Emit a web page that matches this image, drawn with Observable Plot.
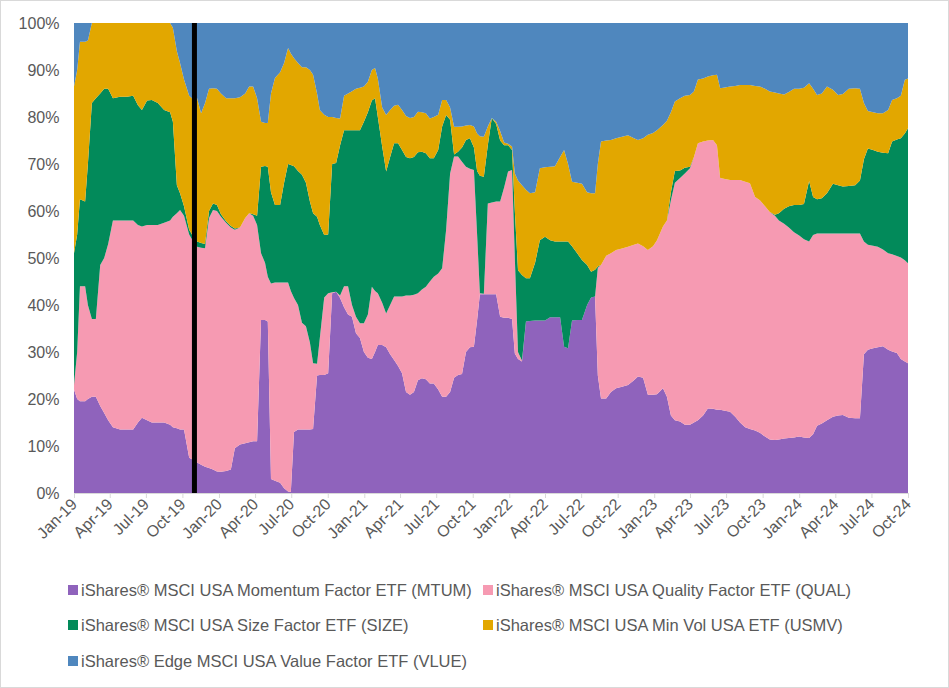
<!DOCTYPE html>
<html><head><meta charset="utf-8">
<script src="https://cdn.jsdelivr.net/npm/d3@7"></script>
<script src="https://cdn.jsdelivr.net/npm/@observablehq/plot@0.6"></script>
<style>
body{margin:0;background:#fff;font-family:"Liberation Sans",Arial,sans-serif;}
#wrap{position:relative;width:949px;height:688px;background:#fff;overflow:hidden}
#frame{position:absolute;left:0;top:0;width:949px;height:688px;box-sizing:border-box;border:1px solid #d9d9d9;pointer-events:none}
#chart{position:absolute;left:0;top:0}
.item{position:absolute;font-size:16.5px;color:#595959;white-space:nowrap;line-height:20px;height:20px}
.sw{position:absolute;left:0;top:5px;width:10px;height:10px}
.lab{position:absolute;left:13px;top:0}
</style></head><body>
<div id="wrap"><div id="chart"></div><div id="legend"></div><div id="frame"></div></div>
<script>
const dates = [
"2019-01-01","2019-01-09","2019-01-16","2019-01-29","2019-02-05","2019-02-15","2019-02-25","2019-03-08","2019-03-18","2019-03-28",
"2019-04-09","2019-04-27","2019-05-14","2019-05-30","2019-06-11","2019-06-21","2019-07-04","2019-07-16","2019-07-31","2019-08-16",
"2019-08-31","2019-09-07","2019-09-17","2019-09-25","2019-10-05","2019-10-18","2019-10-25","2019-11-07","2019-11-17","2019-11-27",
"2019-12-07","2019-12-17","2019-12-27","2020-01-06","2020-01-19","2020-01-31","2020-02-10","2020-02-23","2020-03-07","2020-03-17",
"2020-03-27","2020-04-06","2020-04-16","2020-04-26","2020-05-03","2020-05-11","2020-05-21","2020-06-03","2020-06-13","2020-06-23",
"2020-06-30","2020-07-08","2020-07-18","2020-07-28","2020-08-07","2020-08-17","2020-08-25","2020-09-04","2020-09-11","2020-09-22",
"2020-10-02","2020-10-12","2020-10-22","2020-11-01","2020-11-11","2020-11-21","2020-12-01","2020-12-11","2020-12-21","2020-12-31",
"2021-01-10","2021-01-20","2021-01-28","2021-02-04","2021-02-15","2021-02-25","2021-03-07","2021-03-17","2021-03-27","2021-04-06",
"2021-04-16","2021-04-26","2021-05-06","2021-05-16","2021-05-26","2021-06-05","2021-06-15","2021-06-25","2021-07-06","2021-07-16",
"2021-07-26","2021-08-05","2021-08-15","2021-08-25","2021-09-04","2021-09-14","2021-09-24","2021-10-04","2021-10-12","2021-10-19",
"2021-10-29","2021-11-08","2021-11-18","2021-11-29","2021-12-09","2021-12-19","2021-12-29","2022-01-08","2022-01-15","2022-01-23",
"2022-02-02","2022-02-12","2022-02-22","2022-03-07","2022-03-19","2022-04-01","2022-04-14","2022-04-26","2022-05-09","2022-05-19",
"2022-05-29","2022-06-08","2022-06-21","2022-07-03","2022-07-16","2022-07-26","2022-08-05","2022-08-12","2022-08-20","2022-09-02",
"2022-09-14","2022-09-27","2022-10-12","2022-10-27","2022-11-11","2022-11-21","2022-12-04","2022-12-16","2022-12-29","2023-01-08",
"2023-01-23","2023-02-02","2023-02-12","2023-02-22","2023-03-07","2023-03-19","2023-04-01","2023-04-11","2023-04-21","2023-05-04",
"2023-05-16","2023-05-29","2023-06-08","2023-06-16","2023-06-28","2023-07-11","2023-07-24","2023-08-05","2023-08-18","2023-08-30",
"2023-09-12","2023-09-24","2023-10-07","2023-10-19","2023-11-01","2023-11-11","2023-11-24","2023-12-06","2023-12-19","2024-01-01",
"2024-01-13","2024-01-26","2024-02-05","2024-02-15","2024-02-27","2024-03-11","2024-03-26","2024-04-08","2024-04-20","2024-05-05",
"2024-05-21","2024-06-02","2024-06-12","2024-06-22","2024-07-05","2024-07-17","2024-07-30","2024-08-12","2024-08-22","2024-09-03",
"2024-09-13","2024-09-23","2024-10-01"];

const mtum = [
22,20,19.5,19.5,20,20.5,20.5,18.5,17,15.5,
14,13.5,13.5,13.5,15,16,15.5,15,15,15,
14.5,14,13.8,13.5,13.5,7.5,7.2,6.5,6,5.6,
5.3,5,4.6,4.5,4.7,5,9.5,10.3,10.6,10.8,
11,11,36.8,36.8,36.5,3,2.6,2.2,1,0.3,
0.2,13,13.5,13.5,13.5,13.5,13.6,25,25.1,25.1,
25.5,42.5,42.8,41.5,39.5,38,37.5,34,33,30,
28.8,28.5,30,31.5,31.5,31,29.5,28.3,27,25.5,
21.5,20.9,21.5,24,24.4,24.2,23.3,23.3,22,20.5,
20.5,21.5,24.5,25.1,25.3,30,31,31.1,36.8,42.3,
42.3,42.3,42.3,42.3,37.5,37.3,37.3,37,29.7,28.5,
28,36.5,36.6,36.7,36.7,36.7,37.4,37.4,37.4,31.1,
30.8,36.7,36.8,36.8,40,41.6,41.8,25,20.1,20.1,
21.5,22.3,22.6,23,24,24.8,24.5,20.9,20.9,21,
22.3,20.5,16.5,15.5,15.2,14.5,14.5,15,15.5,16.5,
18,17.9,17.7,17.7,17.5,17.3,16.2,15,14,13.6,
13.3,12.8,12,11.4,11.3,11.4,11.6,11.7,11.8,12,
11.8,11.7,12.5,14.3,14.8,15.5,16.2,16.5,16.6,16,
15.9,15.9,29.5,30.5,30.8,31,31.2,30.5,30.1,29.8,
28.5,28,27.6];

const qual = [
1,10,24.5,24.5,20,16.5,16.5,30,33,37.5,
44,44.5,44.5,44.5,42,40.7,41.5,42,42,42.5,
43.5,44.8,45.7,46.7,45.5,47.5,46.8,45.9,46.2,46.5,
53.2,55.2,55.4,54.3,52.8,51.5,46.5,46.2,47.9,48.7,
48,46,14.2,12.2,9.5,41.6,42.2,42.6,43.8,44.5,
42.8,28.5,26.5,22.7,22,18.5,14,2.5,7.9,16.5,
17,0.2,0,0.5,4.5,6,2.5,3.5,3.1,6.1,
9.2,15.4,13,11,9,7.2,10.5,13.5,14.8,16.3,
20.5,21.1,20.7,18.5,18.9,19.7,21.7,22.7,24.7,27.3,
35.5,46.5,47.1,46.5,45.2,39.4,38,37.6,18.2,0.2,
0.1,19.3,19.5,19.7,24.5,27.7,31.1,31.7,20.3,1.5,
0.2,0,0,0,0,0,0,0,0,0,
0,0,0,0,0,0,0,22.9,28.4,30.4,
29.5,29.4,29.4,29.4,28.8,28.3,28,30.8,31.6,32.8,
34.4,37.5,45.8,50.5,51.8,53.5,54.6,56.5,58.9,58.3,
57,57.2,56.3,49.3,49.3,49.3,50.4,51.6,52.2,52.3,
49.7,49.5,49,48.4,47.7,46.6,45.7,44.8,43.7,42.8,
42.2,41.8,42.4,40.9,40.4,39.7,39,38.7,38.6,39.2,
39.3,39.3,24,22.3,21.8,21.4,20.6,20.5,20.7,20.6,
21.6,21.5,21.3];

const size = [
28,25,18.5,18,30,46,47,36.5,36,33,
26,26.3,26.3,26.5,25.5,24.8,26.5,26.6,26,24,
23,20.2,6,3.6,2,1,1,1.1,1,0.9,
1.5,1.4,1.3,0.5,0.3,0.3,0.3,0,0,0,
0.3,2,18.4,20.6,23.4,19.4,16.5,16.5,21.2,25.2,
26.8,28,28.5,31.5,30.5,30,31.9,31.3,24,13.3,
12.5,27.3,27.4,32,33.2,33.2,37.2,39.7,41.1,42.9,
43,39.6,41,37.5,33.2,30.2,31.5,32.6,32.6,31.2,
29.5,29.2,29.3,30,29.3,28.4,26.2,25.2,26.3,30.2,
24.4,11.4,0.4,1,3,5.7,6.5,4.8,13.5,25,
24.9,12.4,18,16.5,13,9,5.6,4.3,10,17.4,
18.2,9.2,9.1,12.3,17.1,17.8,16.4,16.1,16.1,22.4,
22.7,15.8,14.2,12.8,8.5,5.5,5.7,0.3,0,0,
0,0,0,0,0,0,0,0,0,0,
0,0,1.7,2.5,1.6,1.2,0.3,0,0,0,
0,0,0,0,0,0,0,0,0,0,
0,0,0,0,0.2,1.5,3.2,4.5,5.8,6.5,
7.5,12.9,8.1,7.3,7.5,8.6,10.6,10.3,10,10.1,
10.3,11.3,17.5,20.5,20.4,20.2,20.6,21.3,24,24.8,
25.4,27,28.7];

const usmv = [
35.5,35,33.5,34,26.3,17,16,15,14,14,
16,15.7,15.7,15.5,17.5,18.5,16.5,16.4,17,18.5,
19,20,28.5,27.7,27,28.5,29,30.5,27.6,30,
26,24.5,24.7,25.7,26.2,27.2,27.7,27.7,26.5,27,
27.2,25,9.6,9.1,9.3,21,27,28.2,25.5,24.7,
23.7,23,23,22.9,24.6,28,29.5,26.2,24.5,25.6,
25,10,9.6,5.7,7.3,7.8,8.3,8.8,9,7.5,
6.5,6.5,6.4,8.2,8.3,12,10,8,8.2,8.5,
8.7,8.6,8.5,8.6,8.4,8.5,8.5,8.8,7.5,5.6,
3.2,2.6,5.9,5.3,4.5,3.1,2.8,4.5,8,8.4,
8.5,4,0,0.5,2,0.6,0.3,0.7,8,19.1,
19.1,18.8,18.1,15,15.3,14.8,15.6,16,18,19.5,
16.5,13.7,15,16.2,15.5,16.7,16.3,21.8,26.3,24.5,
24.1,23.8,23.8,23.7,22.7,22,23,24.5,24.1,23.4,
21.6,21.2,17,14.8,15.4,15.3,15.3,13.9,13.6,13.4,
13.6,13.8,15,19.1,19.5,19.9,20,20.2,20.6,20.9,
23.6,24.2,25,25.6,26,25.5,24.3,24.3,24.7,24.7,
24.7,20.8,23,22.2,22.3,22.7,20,19.2,19.7,20.7,
20.6,19.5,12,8,8,8.2,8.4,9.2,8.8,8.8,
9,11.4,10.6];

const vlue = [
13.5,10,4,4,3.7,0,0,0,0,0,
0,0,0,0,0,0,0,0,0,0,
0,1,6,8.5,12,15.5,16,16,19.2,17,
14,13.9,14,15,16,16,16,15.8,15,13.5,
13.5,16,21,21.3,21.3,15,11.7,10.5,8.5,5.3,
6.5,7.5,8.5,9.4,9.4,10,11,15,18.5,19.5,
20,20,20.2,20.3,15.5,15,14.5,14,13.8,13.5,
12.5,10,9.6,11.8,18,19.6,18.5,17.6,17.4,18.5,
19.8,20.2,20,18.9,19,19.2,20.3,20,19.5,16.4,
16.4,18,22.1,22.1,22,21.8,21.7,22,23.5,24.1,
24.2,22,20.2,21,23,25.4,25.7,26.3,32,33.5,
34.5,35.5,36.2,36,30.9,30.7,30.6,30.5,28.5,27,
30,33.8,34,34.2,36,36.2,36.2,30,25.2,25,
24.9,24.5,24.2,23.9,24.5,24.9,24.5,23.8,23.4,22.8,
21.7,20.8,19,16.7,16,15.5,15.3,14.6,12,11.8,
11.4,11.1,11,13.9,13.7,13.5,13.4,13.2,13.2,13.2,
13.4,13.5,14,14.6,14.8,15,15.2,14.7,14,14,
13.8,12.8,14,15.3,15,13.5,14.2,15.3,15.1,14,
13.9,14,17,18.7,19,19.2,19.2,18.5,16.4,16,
15.5,12.1,11.8];

const names = [
  "iShares\u00ae MSCI USA Momentum Factor ETF (MTUM)",
  "iShares\u00ae MSCI USA Quality Factor ETF (QUAL)",
  "iShares\u00ae MSCI USA Size Factor ETF (SIZE)",
  "iShares\u00ae MSCI USA Min Vol USA ETF (USMV)",
  "iShares\u00ae Edge MSCI USA Value Factor ETF (VLUE)"
];
const colors = ["#8F63BC", "#F69AB2", "#028A5A", "#E2A700", "#4F87BE"];

const tickDates = [
"2019-01-01","2019-04-01","2019-07-01","2019-10-01","2020-01-01","2020-04-01","2020-07-01","2020-10-01",
"2021-01-01","2021-04-01","2021-07-01","2021-10-01","2022-01-01","2022-04-01","2022-07-01","2022-10-01",
"2023-01-01","2023-04-01","2023-07-01","2023-10-01","2024-01-01","2024-04-01","2024-07-01","2024-10-01"];
const yTicks = [0,0.1,0.2,0.3,0.4,0.5,0.6,0.7,0.8,0.9,1];
const markerDate = "2019-10-30";

const seriesValues = [mtum, qual, size, usmv, vlue];
const rows = [];
names.forEach((n, i) => dates.forEach((d, j) => rows.push({date: new Date(d), series: n, value: seriesValues[i][j]})));

const chart = Plot.plot({
  width: 949, height: 560,
  marginLeft: 74, marginRight: 41, marginTop: 23, marginBottom: 67,
  style: {fontFamily: "'Liberation Sans', Arial, sans-serif", fontSize: "16px", color: "#595959", background: "transparent", overflow: "visible"},
  x: {type: "utc", domain: [new Date(tickDates[0]), new Date(tickDates[tickDates.length - 1])]},
  y: {domain: [0, 1]},
  color: {domain: names, range: colors},
  marks: [
    Plot.areaY(rows, {x: "date", y: "value", z: "series", fill: "series", order: names, offset: "normalize", curve: "linear"}),
    Plot.ruleX([new Date(markerDate)], {stroke: "#000", strokeWidth: 5}),
    Plot.ruleY([0], {stroke: "#d9d9d9", strokeWidth: 1}),
    Plot.axisX({ticks: tickDates.map(d => new Date(d)), tickFormat: d3.utcFormat("%b-%y"), tickRotate: -45, tickSize: 5, tickPadding: 3, stroke: "#d9d9d9", fill: "#595959", label: null}),
    Plot.axisY({ticks: yTicks, tickFormat: d3.format(".0%"), tickSize: 0, tickPadding: 15, fill: "#595959", label: null})
  ]
});
document.getElementById("chart").appendChild(chart);

const legend = document.getElementById("legend");
const pos = [[68, 580], [483, 580], [68, 615], [483, 615], [68, 651]];
names.forEach((n, i) => {
  const it = document.createElement("div");
  it.className = "item";
  it.style.left = pos[i][0] + "px";
  it.style.top = pos[i][1] + "px";
  it.innerHTML = `<span class="sw" style="background:${colors[i]}"></span><span class="lab"></span>`;
  it.querySelector(".lab").textContent = n;
  legend.appendChild(it);
});
</script>
</body></html>
